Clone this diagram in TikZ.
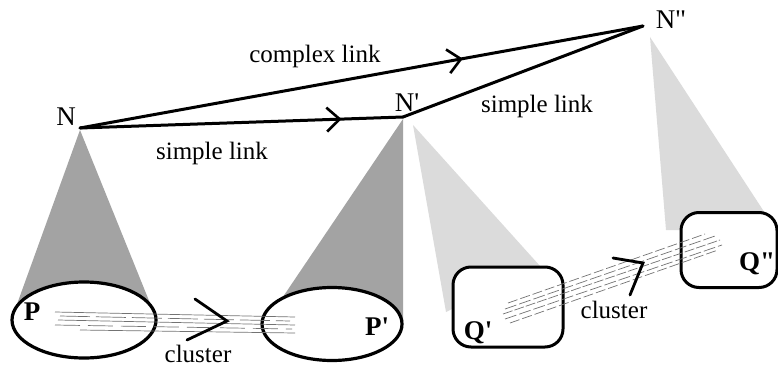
\documentclass[tikz,border=0pt]{standalone}
\usepackage{fontspec}
\setmainfont{Liberation Serif}[Ligatures=TeXOff]
\usetikzlibrary{shapes.geometric,arrows.meta,decorations.markings}
\newcommand{\sq}{\char"0027\relax}
\newcommand{\dq}{\char"0022\relax}
\tikzset{
  lbl/.style={inner sep=0pt,font=\fontsize{25}{28}\selectfont},
  nlbl/.style={inner sep=0pt,font=\fontsize{27}{30}\selectfont},
  blbl/.style={inner sep=0pt,font=\fontsize{27}{30}\selectfont\bfseries},
  link/.style={line width=3pt,line cap=round,line join=round},
  midarrow/.style={postaction={decorate},decoration={markings,mark=at position #1 with {\arrow{Straight Barb[length=13pt,width=24pt,line width=2.6pt]}}}},
  darkcone/.style={fill=black!36},
  lightcone/.style={fill=black!14},
  clus/.style={draw=black!55,line width=0.7pt},
  chev/.style={line width=2.8pt,line cap=round,line join=miter},
  oval/.style={ellipse,draw,fill=white,line width=3.2pt,inner sep=0pt},
  rbox/.style={rectangle,rounded corners=18pt,draw,fill=white,line width=3pt,inner sep=0pt}
}
\begin{document}
\begin{tikzpicture}[x=1pt,y=-1pt]
\useasboundingbox (0,0) rectangle (778,369);
% vertices
\coordinate (N) at (80,128);
\coordinate (N1) at (403,117);
\coordinate (N2) at (643,26);
% cones
\fill[darkcone] (80,130) -- (12,318) -- (156,318) -- cycle;
\fill[darkcone] (403,119) -- (266,322) -- (403,322) -- cycle;
\fill[lightcone] (413,125) -- (446,312) -- (540,266) -- cycle;
\fill[lightcone] (650,37) -- (666,230) -- (776,230) -- cycle;
% containers
\node[oval,minimum width=144pt,minimum height=76pt] (P) at (84,320) {};
\node[oval,minimum width=140pt,minimum height=73pt] (P1) at (332,324) {};
\node[rbox,minimum width=110pt,minimum height=80pt] (Q1) at (508,307) {};
\node[rbox,minimum width=96pt,minimum height=75pt] (Q2) at (729,250) {};
% labels
\node[nlbl] (lN) at (66,117) {N};
\node[nlbl] (lN1) at (407,103) {N\sq};
\node[nlbl] (lN2) at (671,20) {N\dq};
\node[lbl] (lcx) at (315,56) {complex link};
\node[lbl] (ls1) at (212,153) {simple link};
\node[lbl] (ls2) at (537,106) {simple link};
\node[lbl] (lc1) at (198,354) {cluster};
\node[lbl] (lc2) at (614,310) {cluster};
\node[blbl] (lP) at (32,312) {P};
\node[blbl] (lP1) at (377,327) {P\sq};
\node[blbl] (lQ1) at (478,333) {Q\sq};
\node[blbl] (lQ2) at (757,264) {Q\dq};
% links
\draw[link,midarrow=0.68] (N) -- (N2);
\draw[link,midarrow=0.81] (N) -- (N1);
\draw[link] (N1) -- (N2);
% cluster P -> P'
\draw[clus] (55,312) -- (295,317);
\draw[clus,dash pattern=on 30pt off 6pt] (60,316) -- (290,321);
\draw[clus] (58,320) -- (295,325);
\draw[clus,dash pattern=on 25pt off 8pt] (55,325) -- (292,329);
\draw[clus] (80,330) -- (295,333);
\draw[chev] (195,299) -- (227,321) -- (187,340);
% cluster Q' -> Q''
\draw[clus,dash pattern=on 10pt off 3pt] (508,303) -- (705,234);
\draw[clus,dash pattern=on 12pt off 3pt] (505,309) -- (715,236);
\draw[clus,dash pattern=on 10pt off 2pt] (503,314) -- (720,240);
\draw[clus,dash pattern=on 12pt off 3pt] (505,319) -- (722,245);
\draw[clus,dash pattern=on 10pt off 3pt] (510,323) -- (718,250);
\draw[chev] (613,258) -- (643,263) -- (630,295);
\end{tikzpicture}
\end{document}
